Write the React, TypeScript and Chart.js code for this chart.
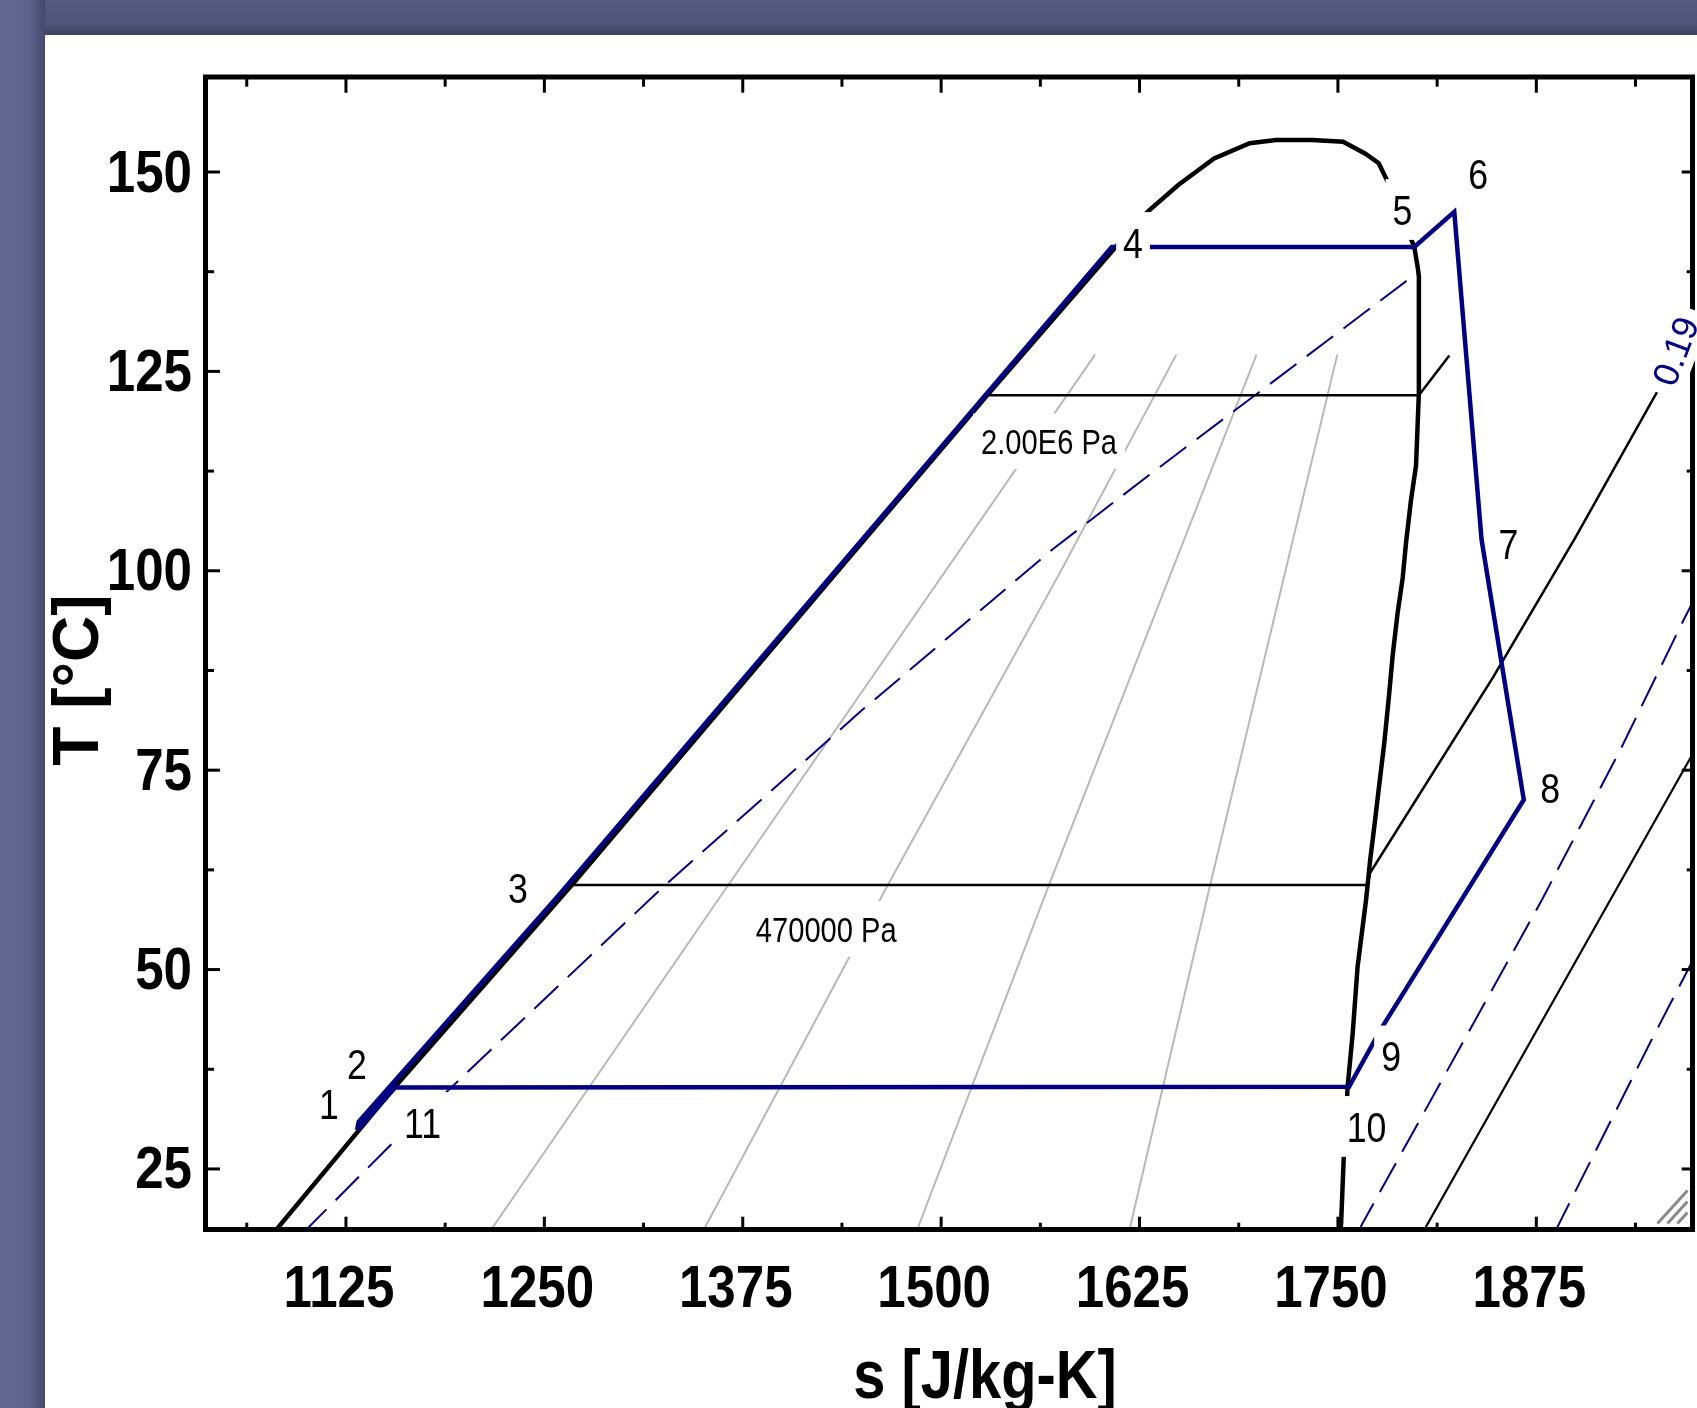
import React, { useEffect, useRef } from 'react';
import { Chart, registerables } from 'chart.js';

Chart.register(...registerables);

// ---------- axis ranges & ticks ----------
const X_MIN = 1036.5;
const X_MAX = 1973.4;
const Y_MIN = 17.41;
const Y_MAX = 161.91;

const xMajorTicks = [1125, 1250, 1375, 1500, 1625, 1750, 1875];
const xMinorTicks = [1062.5, 1187.5, 1312.5, 1437.5, 1562.5, 1687.5, 1812.5, 1937.5];
const yMajorTicks = [25, 50, 75, 100, 125, 150];
const yMinorTicks = [37.5, 62.5, 87.5, 112.5, 137.5];

const xTitle = 's [J/kg-K]';
const yTitle = 'T [°C]';

// ---------- saturation dome ----------
const domeS = [1079.5, 1155.5, 1267.3, 1435.0, 1529.0, 1610.0, 1630.0, 1649.6, 1672.0, 1694.4, 1711.0, 1733.6, 1753.3, 1767.3, 1775.7, 1781.3, 1790.0, 1798.1, 1800.3, 1801.0, 1801.0, 1799.2, 1796.0, 1792.9, 1790.8, 1787.6, 1784.5, 1782.3, 1779.2, 1776.0, 1772.9, 1770.4, 1768.7, 1767.7, 1762.4, 1759.3, 1756.1, 1753.6, 1752.0, 1751.5];
const domeT = [17.0, 35.2, 60.6, 100.0, 122.0, 140.6, 145.0, 148.4, 151.7, 153.6, 154.0, 154.0, 153.8, 152.3, 151.1, 148.8, 144.5, 140.6, 138.0, 136.9, 122.3, 113.2, 108.8, 103.5, 99.1, 94.7, 89.4, 84.6, 78.4, 73.1, 67.9, 63.9, 60.6, 58.7, 50.4, 42.0, 35.3, 26.1, 18.2, 17.0];

// ---------- cycle state points (1..11) ----------
const stateNames = ['1', '2', '3', '4', '5', '6', '7', '8', '9', '10', '11'];
const stateS = [1132.0, 1133.0, 1258.5, 1607.5, 1798.1, 1823.3, 1840.5, 1867.1, 1777.0, 1757.0, 1156.0];
const stateT = [29.9, 30.9, 59.2, 140.6, 140.6, 145.0, 103.9, 71.3, 42.5, 35.3, 35.2];
const cycleOrder = [0, 1, 2, 3, 4, 5, 6, 7, 8, 9, 10, 0];

// state label anchors (data coordinates)
const stateLabelS = [1114.3, 1131.9, 1233.4, 1620.9, 1790.7, 1838.3, 1857.5, 1883.7, 1783.5, 1768.0, 1173.2];
const stateLabelT = [33.15, 38.16, 60.29, 141.16, 145.3, 149.8, 103.36, 72.83, 39.17, 30.33, 30.83];

// ---------- isobars ----------
const isobar2MPaS = [1529.0, 1801.0, 1820.2];
const isobar2MPaT = [122.0, 122.0, 127.0];
const isobar470kS = [1267.3, 1768.7, 1770.2, 1847.9, 1899.4, 1951.9];
const isobar470kT = [60.6, 60.6, 62.1, 86.7, 104.1, 122.7];
const isobarLowS = [1804.5, 1967.7, 1976.0];
const isobarLowT = [17.4, 75.0, 77.9];

const isobarLabels = ['2.00E6 Pa', '470000 Pa'];
const isobarLabelS = [1568.0, 1427.6];
const isobarLabelT = [116.24, 55.1];

// ---------- isochores ----------
const isochoreBigS = [1098.0, 1154.6, 1234.7, 1325.0, 1450.0, 1570.9, 1631.7, 1799.6];
const isochoreBigT = [17.0, 28.3, 43.4, 60.4, 82.5, 102.8, 112.1, 137.3];
const isochoreAS = [1763.0, 1765.0, 1878.4, 1927.8, 1967.7, 1976.0];
const isochoreAT = [17.0, 18.0, 58.7, 77.5, 93.8, 97.0];
const isochoreBS = [1886.5, 1891.0, 1946.6, 1969.8, 1976.0];
const isochoreBT = [17.0, 18.8, 40.8, 49.7, 52.1];

const isochoreLabels = ['0.19'];
const isochoreLabelS = [1962.4];
const isochoreLabelT = [127.56];

// ---------- constant quality lines ----------
const quality02S = [1216.5, 1365.9, 1597.0];
const quality02T = [17.4, 60.6, 127.1];
const quality04S = [1350.5, 1466.4, 1575.5, 1648.2];
const quality04T = [17.4, 60.6, 100.0, 127.1];
const quality06S = [1484.9, 1567.9, 1698.7];
const quality06T = [17.4, 60.6, 127.1];
const quality08S = [1618.7, 1669.5, 1749.6];
const quality08T = [17.4, 60.6, 127.1];

// ---------- styling ----------
const NAVY = '#000080';
const FONT = '"Liberation Sans", Arial, Helvetica, sans-serif';

const toPts = (s: number[], t: number[]) => s.map((v, i) => ({ x: v, y: t[i] }));

type TextOpts = {
  size: number;
  weight?: string;
  sx?: number;
  color?: string;
  align?: CanvasTextAlign;
  rot?: number;
  box?: boolean;
  padX?: number;
  padY?: number;
};

function drawText(ctx: CanvasRenderingContext2D, text: string, x: number, y: number, o: TextOpts) {
  const sx = o.sx ?? 1;
  const align = o.align ?? 'center';
  ctx.save();
  ctx.translate(x, y);
  if (o.rot) ctx.rotate(o.rot);
  ctx.scale(sx, 1);
  ctx.font = `${o.weight ?? 'normal'} ${o.size}px ${FONT}`;
  const w = ctx.measureText(text).width;
  const cap = 0.716 * o.size;
  const left = align === 'center' ? -w / 2 : align === 'right' ? -w : 0;
  if (o.box) {
    const px = (o.padX ?? 6) / sx;
    const py = o.padY ?? 12;
    ctx.fillStyle = '#ffffff';
    ctx.fillRect(left - px, -cap / 2 - py, w + 2 * px, cap + 2 * py);
  }
  ctx.fillStyle = o.color ?? '#000';
  ctx.textAlign = align;
  ctx.textBaseline = 'alphabetic';
  ctx.fillText(text, 0, cap / 2);
  ctx.restore();
}

const decorPlugin = {
  id: 'decor',
  afterDraw(chart: any) {
    const { ctx, chartArea: a, scales } = chart;
    const xs = scales.x;
    const ys = scales.y;
    ctx.save();
    const line = (x1: number, y1: number, x2: number, y2: number) => {
      ctx.beginPath();
      ctx.moveTo(x1, y1);
      ctx.lineTo(x2, y2);
      ctx.stroke();
    };

    // resize grip (bottom-right corner)
    ctx.strokeStyle = '#8a8a8a';
    ctx.lineWidth = 3;
    line(a.right - 35, a.bottom - 6, a.right - 5, a.bottom - 39);
    line(a.right - 25, a.bottom - 6, a.right - 5, a.bottom - 28);
    line(a.right - 15, a.bottom - 6, a.right - 5, a.bottom - 17);

    // frame
    ctx.strokeStyle = '#000';
    ctx.lineWidth = 5;
    ctx.strokeRect(a.left, a.top, a.right - a.left, a.bottom - a.top);

    // inward ticks
    ctx.lineWidth = 3;
    ctx.lineCap = 'butt';
    xMajorTicks.forEach((v) => {
      const p = xs.getPixelForValue(v);
      line(p, a.top, p, a.top + 15.7);
      line(p, a.bottom, p, a.bottom - 12.8);
    });
    xMinorTicks.forEach((v) => {
      const p = xs.getPixelForValue(v);
      line(p, a.top, p, a.top + 9.7);
      line(p, a.bottom, p, a.bottom - 6.8);
    });
    yMajorTicks.forEach((v) => {
      const p = ys.getPixelForValue(v);
      line(a.left, p, a.left + 14.5, p);
      line(a.right, p, a.right - 10.8, p);
    });
    yMinorTicks.forEach((v) => {
      const p = ys.getPixelForValue(v);
      line(a.left, p, a.left + 8.5, p);
      line(a.right, p, a.right - 5.8, p);
    });

    // isobar labels
    isobarLabels.forEach((t, i) => {
      drawText(ctx, t, xs.getPixelForValue(isobarLabelS[i]), ys.getPixelForValue(isobarLabelT[i]), {
        size: 35.5, sx: 0.82, box: true, padX: 8, padY: 15,
      });
    });
    // state labels
    stateNames.forEach((t, i) => {
      drawText(ctx, t, xs.getPixelForValue(stateLabelS[i]), ys.getPixelForValue(stateLabelT[i]), {
        size: 43, sx: 0.83, box: true, padX: 7, padY: 15,
      });
    });
    // isochore label (rotated, blue)
    isochoreLabels.forEach((t, i) => {
      drawText(ctx, t, xs.getPixelForValue(isochoreLabelS[i]), ys.getPixelForValue(isochoreLabelT[i]), {
        size: 36, color: NAVY, rot: (-69 * Math.PI) / 180, box: true, padX: 10, padY: 9,
      });
    });

    // tick labels
    yMajorTicks.forEach((v) => {
      drawText(ctx, String(v), 192, ys.getPixelForValue(v) - 1.5, {
        size: 58.7, weight: 'bold', sx: 0.87, align: 'right',
      });
    });
    xMajorTicks.forEach((v) => {
      drawText(ctx, String(v), xs.getPixelForValue(v) - 7, 1285.8, {
        size: 58.7, weight: 'bold', sx: 0.87,
      });
    });

    // axis titles
    drawText(ctx, xTitle, 985, 1373.8, { size: 68, weight: 'bold', sx: 0.85 });
    drawText(ctx, yTitle, 75, 680, { size: 64, weight: 'bold', rot: -Math.PI / 2 });

    ctx.restore();
  },
};

export default function App() {
  const canvasRef = useRef<HTMLCanvasElement | null>(null);

  useEffect(() => {
    const canvas = canvasRef.current;
    if (!canvas) return;

    const lineDs = (s: number[], t: number[], color: string, width: number, dash: number[] = []) => ({
      data: toPts(s, t),
      showLine: true,
      borderColor: color,
      backgroundColor: color,
      borderWidth: width,
      borderDash: dash,
      pointRadius: 0,
      pointHoverRadius: 0,
      fill: false,
      tension: 0,
      borderJoinStyle: 'miter' as const,
    });

    const cycleS = cycleOrder.map((k) => stateS[k]);
    const cycleT = cycleOrder.map((k) => stateT[k]);

    const chart = new Chart(canvas, {
      type: 'scatter',
      data: {
        datasets: [
          lineDs(cycleS, cycleT, NAVY, 4.5),
          lineDs(domeS, domeT, '#000000', 4.5),
          lineDs(isobar2MPaS, isobar2MPaT, '#000000', 2.5),
          lineDs(isobar470kS, isobar470kT, '#000000', 2.5),
          lineDs(isobarLowS, isobarLowT, '#000000', 2.2),
          lineDs(isochoreBigS, isochoreBigT, NAVY, 2, [33, 13]),
          lineDs(isochoreAS, isochoreAT, NAVY, 2, [33, 13]),
          lineDs(isochoreBS, isochoreBT, NAVY, 2, [33, 13]),
          lineDs(quality02S, quality02T, '#b8b8b8', 2),
          lineDs(quality04S, quality04T, '#b8b8b8', 2),
          lineDs(quality06S, quality06T, '#b8b8b8', 2),
          lineDs(quality08S, quality08T, '#b8b8b8', 2),
        ] as any,
      },
      options: {
        animation: false,
        responsive: false,
        devicePixelRatio: 1,
        events: [],
        layout: { padding: { top: 77, right: 4.5, left: 0, bottom: 0 } },
        plugins: {
          legend: { display: false },
          tooltip: { enabled: false },
          title: { display: false },
        },
        scales: {
          x: {
            type: 'linear',
            min: X_MIN,
            max: X_MAX,
            grid: { display: false },
            border: { display: false },
            ticks: { display: false },
            afterFit: (s: any) => {
              s.height = 178.5;
            },
          },
          y: {
            type: 'linear',
            min: Y_MIN,
            max: Y_MAX,
            grid: { display: false },
            border: { display: false },
            ticks: { display: false },
            afterFit: (s: any) => {
              s.width = 205.5;
            },
          },
        },
      } as any,
      plugins: [decorPlugin],
    });

    return () => {
      chart.destroy();
    };
  }, []);

  return (
    <div
      style={{
        position: 'fixed',
        left: 0,
        top: 0,
        width: 1697,
        height: 1408,
        overflow: 'hidden',
        background: '#545980',
      }}
    >
      <div
        style={{
          position: 'absolute',
          left: 0,
          top: 0,
          width: 45,
          height: 1408,
          background: 'linear-gradient(to right, #64678f 0%, #5f628b 65%, #45496c 100%)',
        }}
      />
      <div
        style={{
          position: 'absolute',
          left: 45,
          top: 0,
          right: 0,
          height: 35,
          background: 'linear-gradient(to bottom, #545a81 0%, #4f5479 70%, #3c4061 100%)',
        }}
      />
      <div style={{ position: 'absolute', left: 45, top: 35, right: 0, bottom: 0, background: '#ffffff' }} />
      <canvas
        ref={canvasRef}
        width={1697}
        height={1408}
        style={{ position: 'absolute', left: 0, top: 0, width: 1697, height: 1408, display: 'block' }}
      />
    </div>
  );
}
